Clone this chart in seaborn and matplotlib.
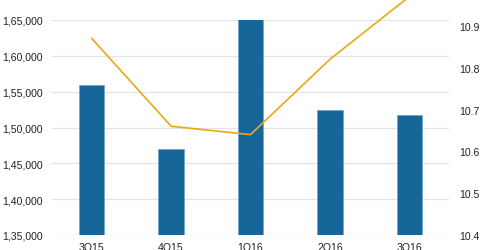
import matplotlib
matplotlib.use("Agg")
import matplotlib.pyplot as plt
import matplotlib.ticker as mticker
import seaborn as sns
import pandas as pd

quarters = ["3Q15", "4Q15", "1Q16", "2Q16", "3Q16"]
bar_values = [156000, 147000, 165100, 152500, 151800]
line_values = [10.87, 10.66, 10.64, 10.82, 10.97]

sns.set_theme(style="white")
plt.rcParams['font.family'] = ['Liberation Sans', 'DejaVu Sans']

df = pd.DataFrame({"quarter": quarters, "bars": bar_values, "line": line_values})

fig = plt.figure(figsize=(4.8, 2.51), dpi=100)
ax = fig.add_axes([52/480, 1-236/251, (449-52)/480, (236-21)/251])

sns.barplot(data=df, x="quarter", y="bars", ax=ax, color="#17669A",
            width=0.32, edgecolor="#6fa6cc", linewidth=0.6, saturation=1, zorder=3)
ax.set_ylim(135000, 165000)
ax.set_xlim(-0.5, 4.5)
ax.yaxis.set_major_locator(mticker.MultipleLocator(5000))

def indian(v, pos):
    v = int(round(v))
    s = str(v)
    if len(s) > 3:
        head, tail = s[:-3], s[-3:]
        parts = []
        while len(head) > 2:
            parts.insert(0, head[-2:])
            head = head[:-2]
        if head:
            parts.insert(0, head)
        return ",".join(parts) + "," + tail
    return s

ax.yaxis.set_major_formatter(mticker.FuncFormatter(indian))
ax.grid(axis="y", color="#e3e3e3", linewidth=0.9, zorder=0)
ax.set_axisbelow(True)
for s in ax.spines.values():
    s.set_visible(False)
ax.set_xlabel("")
ax.set_ylabel("")
ax.tick_params(axis="y", length=0, pad=6.5, labelsize=7.6, colors="#222222")
ax.tick_params(axis="x", length=0, pad=5, labelsize=7.6, colors="#222222")

ax2 = ax.twinx()
sns.lineplot(data=df, x="quarter", y="line", ax=ax2, color="#E8A817",
             linewidth=1.2, sort=False, clip_on=False)
ax2.set_ylim(10.4, 10.914)
ax2.yaxis.set_major_locator(mticker.FixedLocator([10.4, 10.5, 10.6, 10.7, 10.8, 10.9]))
ax2.yaxis.set_major_formatter(mticker.FormatStrFormatter("%.1f"))
for s in ax2.spines.values():
    s.set_visible(False)
ax2.set_ylabel("")
ax2.set_xlabel("")
ax2.tick_params(axis="y", length=0, pad=7, labelsize=7.6, colors="#222222")
for line in ax2.lines:
    line.set_clip_on(False)

fig.savefig("out.png", dpi=100)
